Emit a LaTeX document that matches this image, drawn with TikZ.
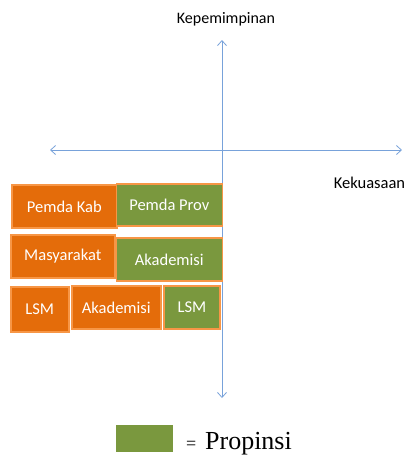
\documentclass[tikz,border=0pt]{standalone}
\usepackage{fontspec}
\setmainfont{Carlito}
\newfontfamily\legendfont{Liberation Serif}
\usetikzlibrary{arrows.meta}
\definecolor{boxorange}{RGB}{228,108,10}
\definecolor{edgeorange}{RGB}{247,150,70}
\definecolor{boxgreen}{RGB}{122,152,62}
\definecolor{axisblue}{RGB}{120,162,218}

\begin{document}
\begin{tikzpicture}[x=1pt, y=-1pt, >={Straight Barb[length=5pt,width=9pt]}]
\tikzstyle{every node} = [inner sep=0pt, outer sep=0pt]
\tikzstyle{axis} = [draw=axisblue, line width=0.8pt]
\tikzstyle{actor} = [draw=edgeorange, line width=1.6pt, text=white, font=\fontsize{16.5}{18}\selectfont]
\tikzstyle{kab} = [actor, fill=boxorange]
\tikzstyle{prov} = [actor, fill=boxgreen]
\useasboundingbox (0,0) rectangle (407,456);
% axes
\coordinate (top) at (222,40);
\coordinate (bottom) at (222,398);
\coordinate (left) at (50,150);
\coordinate (right) at (402,150);
\draw[axis, <->] (bottom) -- (top);
\draw[axis, <->] (left) -- (right);
\node (ylabel) at (226,19) {\fontsize{16}{18}\selectfont Kepemimpinan};
\node (xlabel) at (369.5,183) {\fontsize{16.5}{18}\selectfont Kekuasaan};
% actors
\node[kab, minimum width=105pt, minimum height=43pt] (pkab) at (64.3,206.5) {Pemda Kab};
\node[prov, minimum width=106pt, minimum height=42pt] (pprov) at (169.3,205) {Pemda Prov};
\node[kab, minimum width=104pt, minimum height=43pt] (masy) at (62.8,256.5) {Masyarakat};
\node[prov, minimum width=106pt, minimum height=43pt] (akadprov) at (169.3,259.5) {Akademisi};
\node[kab, minimum width=58pt, minimum height=45pt] (lsmkab) at (39.8,309.5) {LSM};
\node[kab, minimum width=89pt, minimum height=43pt] (akadkab) at (116.3,307.5) {Akademisi};
\node[prov, minimum width=56pt, minimum height=43pt] (lsmprov) at (192,307.5) {LSM};
% legend
\node[fill=boxgreen, minimum width=57pt, minimum height=27pt] (legend) at (144.3,438.3) {};
\node[anchor=base west] (legendtext) at (186,449) {\legendfont\fontsize{26}{28}\selectfont {\fontsize{18}{20}\selectfont =}\hspace{9pt}Propinsi};
\end{tikzpicture}
\end{document}
